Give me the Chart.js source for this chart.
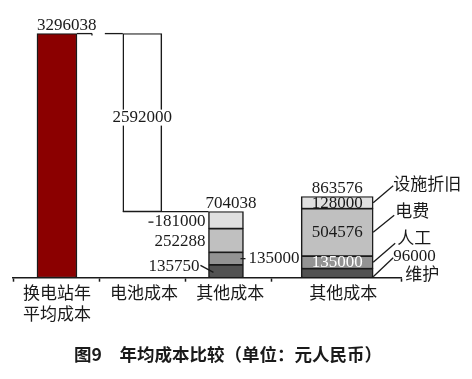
<!DOCTYPE html>
<html>
<head>
<meta charset="utf-8">
<title>年均成本比较</title>
<script src="https://cdn.jsdelivr.net/npm/chart.js@4.4.1/dist/chart.umd.min.js"></script>
<style>
  html, body { margin: 0; padding: 0; background: #fff; }
  #wrap { position: relative; width: 472px; height: 379px; }
</style>
</head>
<body>
<div id="wrap"><canvas id="costChart"></canvas></div>
<script>
// 数据（单位：元人民币）
var categories = [['换电站年', '平均成本'], '电池成本', '其他成本', '其他成本'];
var stationCost = 3296038;
var batteryCost = 2592000;
var segmentNames = ['维护', '人工', '电费', '设施折旧'];
var otherCostA = [135750, 135000, 252288, 181000];
var otherCostB = [96000, 135000, 504576, 128000];
var chartTitle = '图9\u3000年均成本比较（单位：元人民币）';

// 版式
var barPos = [0.51, 1.5, 2.47, 3.76];
var barWidth = [40, 39, 35, 72];
var labelPos = [0.51, 1.52, 2.52, 3.83];
var bounds = [0, 1, 2, 3, 4.5];
var segColors = ['#525252', '#939393', '#c0c0c0', '#e0e0e0'];
var INK = '#1a1a1a';
var NUM_FONT = '17px "Liberation Serif"';
var CJK_FONT = '17px "Noto Sans CJK SC"';

// 纵轴不按比例：大值部分压缩
var BREAK_AT = 900000;
var UPPER_RATIO = 0.71;
function warp(v) { return v <= BREAK_AT ? v : BREAK_AT + (v - BREAK_AT) * UPPER_RATIO; }
function unwarp(w) { return w <= BREAK_AT ? w : BREAK_AT + (w - BREAK_AT) / UPPER_RATIO; }

class BrokenLinearScale extends Chart.LinearScale {
  getPixelForValue(value) {
    if (value === null || value === undefined) return NaN;
    return this.getPixelForDecimal(warp(value) / warp(this.max));
  }
  getValueForPixel(pixel) {
    return unwarp(this.getDecimalForPixel(pixel) * warp(this.max));
  }
}
BrokenLinearScale.id = 'brokenLinear';
Chart.register(BrokenLinearScale);

function sum(arr) { return arr.reduce(function (a, b) { return a + b; }, 0); }

// 轴标签：边界刻度 + 类别中心
var axisTicks = [];
bounds.forEach(function (b, i) {
  axisTicks.push({ value: b, label: '', mark: true });
  if (i < labelPos.length) axisTicks.push({ value: labelPos[i], label: categories[i], mark: false });
});

var borderW = { top: 1.2, bottom: 1.2, left: 1.5, right: 1.5 };
var datasets = [];
datasets.push({
  label: '换电站年平均成本',
  data: [{ x: barPos[0], y: stationCost }],
  backgroundColor: '#8b0000', barThickness: barWidth[0]
});
datasets.push({
  label: '电池成本',
  data: [{ x: barPos[1], y: [stationCost - batteryCost, stationCost] }],
  backgroundColor: '#ffffff', barThickness: barWidth[1]
});
segmentNames.forEach(function (name, k) {
  datasets.push({
    label: name,
    data: [{ x: barPos[2], y: otherCostA[k] }],
    backgroundColor: segColors[k], barThickness: barWidth[2]
  });
});
segmentNames.forEach(function (name, k) {
  datasets.push({
    label: name,
    data: [{ x: barPos[3], y: otherCostB[k] }],
    backgroundColor: segColors[k], barThickness: barWidth[3]
  });
});
datasets.forEach(function (d) {
  d.borderColor = INK;
  d.borderWidth = borderW;
  d.borderSkipped = false;
});

function segBox(chart, ds) {
  var e = chart.getDatasetMeta(ds).data[0];
  return { l: e.x - e.width / 2, r: e.x + e.width / 2, t: Math.min(e.y, e.base), b: Math.max(e.y, e.base), cx: e.x, cy: (e.y + e.base) / 2 };
}

var labelPlugin = {
  id: 'costLabels',
  afterDatasetsDraw: function (chart) {
    var ctx = chart.ctx;
    ctx.save();
    ctx.strokeStyle = INK;
    ctx.lineWidth = 1.3;

    function text(str, x, y, align, font, color, base) {
      ctx.font = font;
      ctx.textAlign = align;
      ctx.textBaseline = base || 'middle';
      ctx.fillStyle = color || INK;
      ctx.fillText(str, x, y);
    }
    function line(x1, y1, x2, y2) {
      ctx.beginPath(); ctx.moveTo(x1, y1); ctx.lineTo(x2, y2); ctx.stroke();
    }

    var b1 = segBox(chart, 0), b2 = segBox(chart, 1);
    // 总成本
    text(String(stationCost), b1.l, b1.t - 3.5, 'left', NUM_FONT, INK, 'alphabetic');
    // 连接线
    line(b1.r, b1.t, b1.r + 15, b1.t);
    line(b1.r + 15, b1.t, b1.r + 15, b1.t + 2);
    line(b2.l - 18, b2.t, b2.l, b2.t);
    var sA3 = segBox(chart, 5), sA2 = segBox(chart, 4), sA1 = segBox(chart, 3), sA0 = segBox(chart, 2);
    line(b2.l, b2.b, sA3.l, b2.b);

    // 电池成本
    ctx.font = NUM_FONT;
    var w = ctx.measureText(String(batteryCost)).width;
    var my = b2.cy - 5;
    ctx.fillStyle = '#ffffff';
    ctx.fillRect(b2.cx - w / 2 - 1, my - 8, w + 2, 16);
    text(String(batteryCost), b2.cx, my, 'center', NUM_FONT);

    // 其他成本（一）
    text(String(sum(otherCostA)), sA3.l - 3, sA3.t - 3.5, 'left', NUM_FONT, INK, 'alphabetic');
    ctx.font = NUM_FONT;
    var w3 = ctx.measureText(String(otherCostA[3])).width;
    text(String(otherCostA[3]), sA3.l - 3, sA3.cy + 1, 'right', NUM_FONT);
    line(sA3.l - 3 - w3 - 6, sA3.cy + 2, sA3.l - 3 - w3 - 1, sA3.cy + 2);
    text(String(otherCostA[2]), sA2.l - 3, sA2.cy + 1.5, 'right', NUM_FONT);
    text(String(otherCostA[0]), sA0.l - 9, sA0.cy - 5, 'right', NUM_FONT);
    line(sA0.l - 8, sA0.cy - 6, sA0.l + 5, sA0.cy + 1);
    text(String(otherCostA[1]), sA1.r + 5, sA1.cy - 0.5, 'left', NUM_FONT);
    line(sA1.r - 3, sA1.cy, sA1.r + 2, sA1.cy);

    // 其他成本（二）
    var sB3 = segBox(chart, 9), sB2 = segBox(chart, 8), sB1 = segBox(chart, 7), sB0 = segBox(chart, 6);
    text(String(sum(otherCostB)), sB3.cx, sB3.t - 3.5, 'center', NUM_FONT, INK, 'alphabetic');
    text(String(otherCostB[3]), sB3.cx, sB3.cy + 0.5, 'center', NUM_FONT);
    text(String(otherCostB[2]), sB2.cx, sB2.cy + 0.5, 'center', NUM_FONT);
    text(String(otherCostB[1]), sB1.cx, sB1.cy + 0.5, 'center', NUM_FONT, '#ffffff');

    // 引线与分项名称
    var r = sB3.r;
    line(r, sB3.cy, r + 20, sB3.cy - 17);
    text(segmentNames[3], r + 20, sB3.cy - 19, 'left', CJK_FONT);
    line(r, sB2.cy, r + 21, sB2.cy - 17);
    text(segmentNames[2], r + 22, sB2.cy - 22, 'left', CJK_FONT);
    line(r, sB1.cy, r + 22, sB1.cy - 19);
    text(segmentNames[1], r + 24, sB1.cy - 25, 'left', CJK_FONT);
    line(r, sB0.b - 1, r + 20, sB0.b - 20);
    text(String(otherCostB[0]), r + 20, sB0.cy - 16.5, 'left', NUM_FONT);
    text(segmentNames[0], r + 32, sB0.cy + 0.5, 'left', CJK_FONT);

    // 图题
    text(chartTitle, 228, 354.5, 'center', 'bold 17.5px "Noto Sans CJK SC"');
    ctx.restore();
  }
};

new Chart(document.getElementById('costChart'), {
  type: 'bar',
  data: { datasets: datasets },
  options: {
    responsive: true,
    maintainAspectRatio: false,
    animation: false,
    events: [],
    layout: { padding: { left: 13, right: 71, top: 20, bottom: 54.5 } },
    plugins: { legend: { display: false }, tooltip: { enabled: false }, title: { display: false } },
    scales: {
      x: {
        type: 'linear', min: 0, max: 4.5, stacked: true, offset: false,
        afterBuildTicks: function (scale) {
          scale.ticks = axisTicks.map(function (t) { return { value: t.value }; });
        },
        grid: {
          offset: false, drawOnChartArea: false, drawTicks: true, tickLength: 4, tickWidth: 1.5,
          tickColor: function (c) { return axisTicks[c.index] && axisTicks[c.index].mark ? INK : 'rgba(0,0,0,0)'; }
        },
        border: { display: true, color: INK, width: 1.5 },
        ticks: {
          autoSkip: false, maxRotation: 0, padding: 1, color: INK,
          font: { family: '"Noto Sans CJK SC"', size: 17, lineHeight: 1.2 },
          callback: function (v, i) { return axisTicks[i] ? axisTicks[i].label : ''; }
        }
      },
      y: {
        type: 'brokenLinear', min: 0, max: 3500000, stacked: true, display: false
      }
    }
  },
  plugins: [labelPlugin]
});
</script>
</body>
</html>
